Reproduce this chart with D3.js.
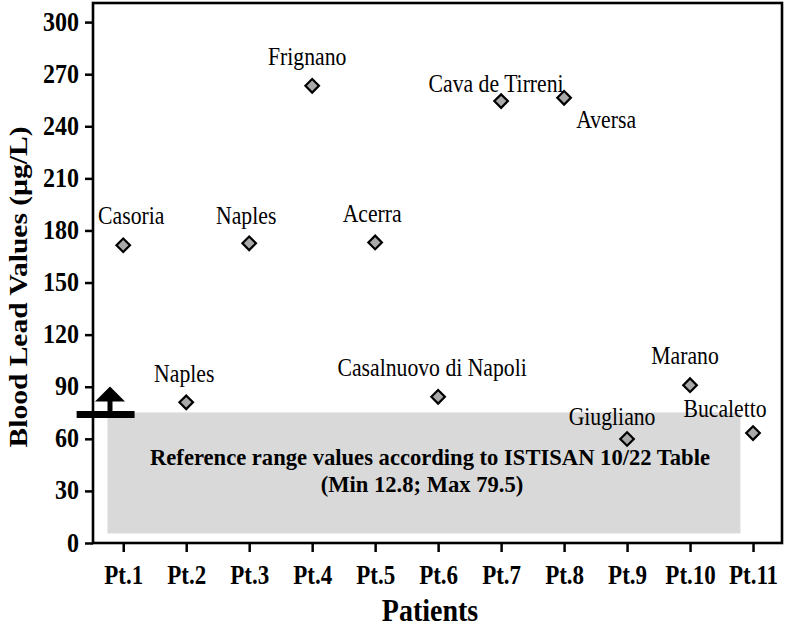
<!DOCTYPE html>
<html>
<head>
<meta charset="utf-8">
<script src="https://cdn.jsdelivr.net/npm/d3@7"></script>
<style>
  body { margin: 0; background: #fff; }
  text { font-family: "Liberation Serif", "Times New Roman", serif; fill: #000; }
</style>
</head>
<body>
<div id="chart"></div>
<script>
// patients and measured blood lead (µg/L)
const patients = ["Pt.1", "Pt.2", "Pt.3", "Pt.4", "Pt.5", "Pt.6", "Pt.7", "Pt.8", "Pt.9", "Pt.10", "Pt.11"];
const towns = ["Casoria", "Naples", "Naples", "Frignano", "Acerra", "Casalnuovo di Napoli",
               "Cava de Tirreni", "Aversa", "Giugliano", "Marano", "Bucaletto"];
const leadValues = [171.5, 81, 172.6, 263.3, 173.1, 84.2, 254.5, 256.4, 59.9, 90.9, 63.3];
const yTicks = [0, 30, 60, 90, 120, 150, 180, 210, 240, 270, 300];

// shaded reference band (as drawn) and threshold marker
const bandX = [0.75, 10.8];
const bandY = [5.5, 75.2];
const bandText = ["Reference range values according to ISTISAN 10/22 Table", "(Min 12.8; Max 79.5)"];
const thresholdValue = 74;

// label offsets in px relative to each point [dx, dy]
const labelOffsets = [[8, -21], [-2, -20], [-3, -19], [-5, -21], [-3, -20], [-6, -21],
                      [-5, -9], [42, 30], [-15, -14], [-5, -21], [-28, -16]];

const width = 787;
const height = 630;
const tall = 1.16; // glyphs in the figure are drawn a bit taller than wide

const svg = d3.select("#chart")
  .append("svg")
  .attr("width", width)
  .attr("height", height);

const x = d3.scaleLinear().domain([0.52, 11.46]).range([93, 782]);
const y = d3.scaleLinear().domain([0, 311]).range([543, 3]);

function label(px, py, txt, size, bold, sy = tall) {
  return svg.append("text")
    .attr("transform", `translate(${px},${py}) scale(1,${sy})`)
    .attr("text-anchor", "middle")
    .style("font-size", size + "px")
    .style("font-weight", bold ? "bold" : "normal")
    .text(txt);
}

// reference band
svg.append("rect")
  .attr("x", x(bandX[0]))
  .attr("y", y(bandY[1]))
  .attr("width", x(bandX[1]) - x(bandX[0]))
  .attr("height", y(bandY[0]) - y(bandY[1]))
  .attr("fill", "#d9d9d9");

label(430, 465, bandText[0], 22.6, true, 1.04);
label(422, 492, bandText[1], 22.6, true, 1.04);

// axes
const yAxis = svg.append("g")
  .attr("transform", `translate(${x(0.52)},0)`)
  .call(d3.axisLeft(y).tickValues(yTicks).tickSize(8).tickPadding(6).tickSizeOuter(0));
yAxis.select(".domain").remove();
yAxis.selectAll(".tick line").attr("stroke", "#000").attr("stroke-width", 2.5);
yAxis.selectAll(".tick text")
  .attr("x", null).attr("dy", null)
  .attr("transform", `translate(-14,8) scale(1,${tall})`)
  .style("font-size", "24px").style("font-weight", "bold");

const xAxis = svg.append("g")
  .attr("transform", `translate(0,${y(0)})`)
  .call(d3.axisBottom(x).tickValues(d3.range(1, 12)).tickFormat(d => patients[d - 1]).tickSize(9).tickSizeOuter(0));
xAxis.select(".domain").remove();
xAxis.selectAll(".tick line").attr("stroke", "#000").attr("stroke-width", 2.5);
xAxis.selectAll(".tick text")
  .attr("y", null).attr("dy", null)
  .attr("transform", `translate(0,40.5) scale(1,${tall})`)
  .style("font-size", "23px").style("font-weight", "bold");

// frame
svg.append("rect")
  .attr("x", x(0.52)).attr("y", y(311))
  .attr("width", x(11.46) - x(0.52))
  .attr("height", y(0) - y(311))
  .attr("fill", "none")
  .attr("stroke", "#000")
  .attr("stroke-width", 2.6);

// points
const diamond = d3.symbol().type(d3.symbolSquare).size(92);
svg.selectAll(".pt")
  .data(leadValues)
  .enter()
  .append("path")
  .attr("class", "pt")
  .attr("d", diamond)
  .attr("transform", (d, i) => `translate(${x(i + 1)},${y(d)}) rotate(45)`)
  .attr("fill", "#a9a9a9")
  .attr("stroke", "#000")
  .attr("stroke-width", 2.2);

leadValues.forEach((d, i) => {
  label(x(i + 1) + labelOffsets[i][0], y(d) + labelOffsets[i][1], towns[i], 21.7, false);
});

// threshold marker: bar with upward arrow
const ty = y(thresholdValue);
svg.append("line")
  .attr("x1", x(0.26)).attr("x2", x(1.18))
  .attr("y1", ty).attr("y2", ty)
  .attr("stroke", "#000").attr("stroke-width", 7);
const ax = x(0.79);
svg.append("line")
  .attr("x1", ax).attr("x2", ax)
  .attr("y1", ty).attr("y2", ty - 15)
  .attr("stroke", "#000").attr("stroke-width", 5);
svg.append("path")
  .attr("d", `M${ax - 15},${ty - 13} L${ax + 15},${ty - 13} L${ax},${ty - 28} Z`)
  .attr("fill", "#000");

// axis titles
svg.append("text")
  .attr("transform", "translate(27,287) rotate(-90) scale(1.18,1)")
  .attr("text-anchor", "middle")
  .style("font-size", "25px").style("font-weight", "bold")
  .text("Blood Lead Values (µg/L)");

label(430, 621, "Patients", 28, true);
</script>
</body>
</html>
